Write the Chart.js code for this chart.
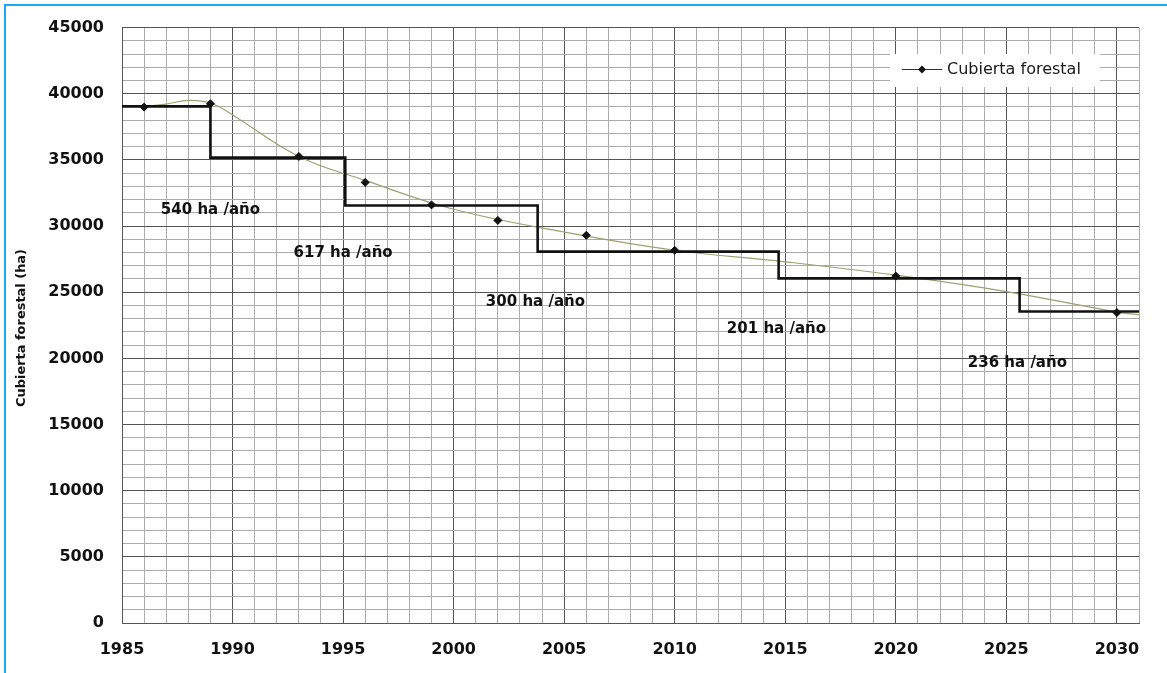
<!DOCTYPE html>
<html>
<head>
<meta charset="utf-8">
<script src="https://cdn.jsdelivr.net/npm/chart.js@4.4.0/dist/chart.umd.min.js"></script>
<style>
  html, body { margin: 0; padding: 0; background: #fff; }
  #wrap { width: 1167px; height: 673px; }
</style>
</head>
<body>
<div id="wrap"><canvas id="forestChart" width="1167" height="673"></canvas></div>
<script>
// PUNTOS MEDIDOS (ha)
const years = [1986, 1989, 1993, 1996, 1999, 2002, 2006, 2010, 2020, 2030];
const forestCover = [38990, 39240, 35260, 33300, 31600, 30430, 29300, 28170, 26220, 23460];

// curva de tendencia suavizada
const trendYears = [1986, 1987, 1988, 1989, 1990, 1993, 1996, 2000, 2005, 2010, 2015, 2020, 2025, 2030, 2031];
const trendValues = [39050, 39220, 39500, 39300, 38400, 35260, 33450, 31270, 29550, 28170, 27300, 26290, 25050, 23500, 23300];

// escalones por periodo
const stepYears = [1985, 1989, 1995.1, 2003.8, 2014.7, 2025.6, 2031];
const stepValues = [39050, 35170, 31550, 28070, 26050, 23540, 23540];

// etiquetas de tasa
const rateLabels = ["540 ha /año", "617 ha /año", "300 ha /año", "201 ha /año", "236 ha /año"];
const rateYears = [1989, 1995, 2003.7, 2014.6, 2025.5];
const rateValues = [31220, 27920, 24290, 22210, 19610];

const MAJOR = "#555";
const MINOR = "#ababab";

const extras = {
  id: "extras",
  beforeDraw: (chart) => {
    const { ctx } = chart;
    ctx.save();
    ctx.fillStyle = "#fff";
    ctx.fillRect(0, 0, chart.width, chart.height);
    // marco azul
    ctx.strokeStyle = "#1aa9ea";
    ctx.lineWidth = 2;
    ctx.beginPath();
    ctx.moveTo(5, chart.height);
    ctx.lineTo(5, 5);
    ctx.lineTo(chart.width, 5);
    ctx.stroke();
    ctx.restore();
  },
  afterDraw: (chart) => {
    const { ctx } = chart;
    const { x, y } = chart.scales;
    ctx.save();

    // tasas anuales
    ctx.font = "bold 15px 'DejaVu Sans'";
    ctx.fillStyle = "#111";
    ctx.textAlign = "center";
    ctx.textBaseline = "middle";
    rateLabels.forEach((txt, i) => {
      ctx.fillText(txt, x.getPixelForValue(rateYears[i]), y.getPixelForValue(rateValues[i]));
    });

    // leyenda dentro del grafico
    ctx.fillStyle = "#fff";
    ctx.fillRect(890, 54, 210, 33);
    ctx.strokeStyle = "#333";
    ctx.lineWidth = 1;
    ctx.beginPath();
    ctx.moveTo(902, 69.5);
    ctx.lineTo(942, 69.5);
    ctx.stroke();
    ctx.fillStyle = "#111";
    ctx.beginPath();
    ctx.moveTo(922, 65.5);
    ctx.lineTo(926, 69.5);
    ctx.lineTo(922, 73.5);
    ctx.lineTo(918, 69.5);
    ctx.closePath();
    ctx.fill();
    ctx.font = "16px 'DejaVu Sans'";
    ctx.textAlign = "left";
    ctx.fillStyle = "#1a1a1a";
    ctx.fillText("Cubierta forestal", 947, 70);

    // titulo eje y
    const title = "Cubierta forestal (ha)";
    ctx.font = "bold 13px 'Liberation Sans Narrow', 'DejaVu Sans Condensed', sans-serif";
    const w = ctx.measureText(title).width;
    ctx.translate(22, 328);
    ctx.rotate(-Math.PI / 2);
    ctx.scale(158 / w, 1);
    ctx.textAlign = "center";
    ctx.fillStyle = "#111";
    ctx.fillText(title, 0, 0);

    ctx.restore();
  },
};

const renderForestChart = () => {
  const data = {
    datasets: [
      {
        label: "Cubierta forestal",
        data: years.map((yr, i) => ({ x: yr, y: forestCover[i] })),
        showLine: false,
        pointStyle: "rectRot",
        pointRadius: 4,
        backgroundColor: "#111",
        borderColor: "#111",
      },
      {
        label: "Periodos",
        data: stepYears.map((yr, i) => ({ x: yr, y: stepValues[i] })),
        stepped: "before",
        borderColor: "#111",
        borderWidth: 2.6,
        pointRadius: 0,
      },
      {
        label: "Tendencia",
        data: trendYears.map((yr, i) => ({ x: yr, y: trendValues[i] })),
        borderColor: "#9ea072",
        borderWidth: 1.2,
        tension: 0.4,
        pointRadius: 0,
      },
    ],
  };

  const tickFont = { family: "'DejaVu Sans'", size: 16, weight: "bold" };

  const options = {
    responsive: false,
    animation: false,
    events: [],
    layout: { padding: { left: 0, top: 25, right: 28, bottom: 0 } },
    plugins: {
      legend: { display: false },
      tooltip: { enabled: false },
    },
    scales: {
      x: {
        type: "linear",
        min: 1985,
        max: 2031,
        afterFit: (scale) => { scale.height = 50; },
        ticks: {
          stepSize: 1,
          autoSkip: false,
          maxRotation: 0,
          padding: 17,
          color: "#111",
          font: tickFont,
          callback: (v) => (v % 5 === 0 ? String(v) : ""),
        },
        grid: {
          drawTicks: false,
          color: (ctx) => (ctx.tick && ctx.tick.value % 5 === 0 ? MAJOR : MINOR),
        },
        border: { color: MAJOR },
      },
      y: {
        min: 0,
        max: 45000,
        afterFit: (scale) => { scale.width = 122; },
        ticks: {
          stepSize: 1000,
          autoSkip: false,
          padding: 18,
          color: "#111",
          font: tickFont,
          callback: (v) => (v % 5000 === 0 ? String(v) : ""),
        },
        grid: {
          drawTicks: false,
          color: (ctx) => (ctx.tick && ctx.tick.value % 5000 === 0 ? MAJOR : MINOR),
        },
        border: { color: MAJOR },
      },
    },
  };

  new Chart("forestChart", { type: "line", data, options, plugins: [extras] });
};

renderForestChart();
</script>
</body>
</html>
